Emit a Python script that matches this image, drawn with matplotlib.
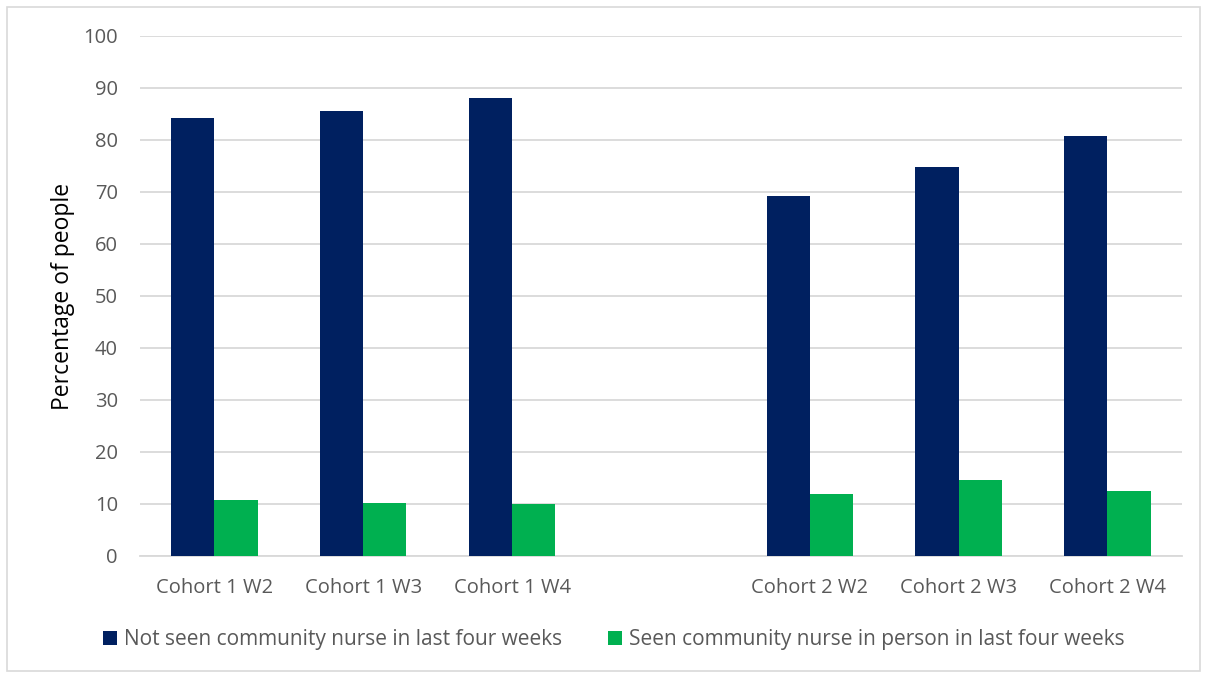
import matplotlib
matplotlib.use("Agg")
import matplotlib.pyplot as plt
import numpy as np
from matplotlib.patches import Rectangle

plt.rcParams['font.family'] = ['Open Sans', 'DejaVu Sans']

# data
categories = ['Cohort 1 W2', 'Cohort 1 W3', 'Cohort 1 W4', '',
              'Cohort 2 W2', 'Cohort 2 W3', 'Cohort 2 W4']
not_seen = [84.2, 85.6, 88.1, np.nan, 69.2, 74.8, 80.8]
seen = [10.8, 10.2, 10.0, np.nan, 11.9, 14.6, 12.5]
series_labels = ['Not seen community nurse in last four weeks',
                 'Seen community nurse in person in last four weeks']

navy = '#002060'
green = '#00B050'
text_col = '#595959'

fig = plt.figure(figsize=(12.05, 6.75), dpi=100)
ax = fig.add_axes([0.1162, 0.1763, 0.8646, 0.7704])

x = np.arange(len(categories))
w = 0.29
ax.bar(x - w / 2, not_seen, w, color=navy, label=series_labels[0], zorder=3)
ax.bar(x + w / 2, seen, w, color=green, label=series_labels[1], zorder=3)

ax.set_xlim(-0.5, len(categories) - 0.5)
ax.set_ylim(0, 100)
ax.set_yticks(np.arange(0, 101, 10))
ax.set_xticks(x)
ax.set_xticklabels(categories)
ax.yaxis.grid(True, color='#D9D9D9', linewidth=1.3, zorder=0)
for s in ['top', 'right', 'left']:
    ax.spines[s].set_visible(False)
ax.spines['bottom'].set_color('#D9D9D9')
ax.spines['bottom'].set_linewidth(1.3)
ax.tick_params(axis='both', length=0, labelsize=14.5, colors=text_col)
ax.tick_params(axis='x', pad=16)
ax.tick_params(axis='y', pad=16)
ax.set_ylabel('Percentage of people', fontsize=16.5, color='black', labelpad=6)

ax.legend(loc='upper center', bbox_to_anchor=(0.455, -0.105), ncol=2,
          frameon=False, fontsize=15, handlelength=0.65, handleheight=0.65,
          handletextpad=0.35, columnspacing=2.2, labelcolor=text_col)

# light frame around the chart
fig.patches.append(Rectangle((0.006, 0.006), 0.99, 0.984, transform=fig.transFigure,
                             fill=False, edgecolor='#D9D9D9', linewidth=1.2))

fig.savefig('out.png', dpi=100)
